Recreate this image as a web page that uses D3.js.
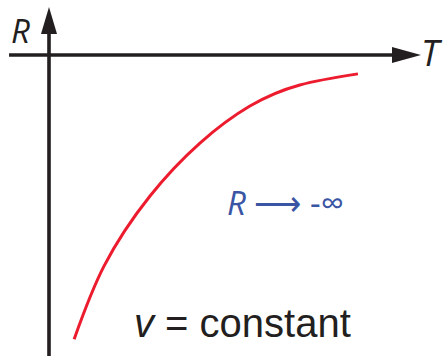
<!DOCTYPE html>
<html>
<head>
<meta charset="utf-8">
<script src="https://cdn.jsdelivr.net/npm/d3@7/dist/d3.min.js"></script>
<style>
  html, body { margin: 0; padding: 0; background: #fff; }
  svg { display: block; }
  text { font-family: "Open Sans", "Liberation Sans", sans-serif; }
</style>
</head>
<body>
<svg id="chart" width="444" height="356"></svg>
<script>
// R(T) curve at constant v
const temperature = [0.68, 1.49, 2.73, 4.08, 5.43, 6.78, 8.35];
const resistance  = [-7.68, -5.70, -3.81, -2.38, -1.38, -0.81, -0.51];

// Axis extents (data units)
const tRange = [-1.08, 10.0];
const rRange = [1.3, -8.2];

const labels = { x: "T", y: "R", limit: ["R", " \u27F6 -\u221E"], note: ["v", " = constant"] };

const svg = d3.select("#chart");
const W = 444, H = 356;

const x = d3.scaleLinear().domain([0, 10]).range([49, 419]);
const y = d3.scaleLinear().domain([0, -8]).range([55, 351]);

const ink = "#231f20";
const axisW = 3.6;

// horizontal T axis
svg.append("line")
  .attr("x1", x(tRange[0])).attr("x2", x(tRange[1]) - 25)
  .attr("y1", y(0)).attr("y2", y(0))
  .attr("stroke", ink).attr("stroke-width", axisW);
svg.append("path")
  .attr("d", `M${x(tRange[1]) + 2},${y(0)} L${x(tRange[1]) - 27},${y(0) - 8} L${x(tRange[1]) - 27},${y(0) + 8} Z`)
  .attr("fill", ink);

// vertical R axis
svg.append("line")
  .attr("x1", x(0)).attr("x2", x(0))
  .attr("y1", y(rRange[0]) + 24).attr("y2", H)
  .attr("stroke", ink).attr("stroke-width", axisW);
svg.append("path")
  .attr("d", `M${x(0)},${y(rRange[0])} L${x(0) - 8},${y(rRange[0]) + 27} L${x(0) + 8},${y(rRange[0]) + 27} Z`)
  .attr("fill", ink);

// axis labels
svg.append("text").attr("x", 11).attr("y", 43)
  .attr("font-size", 33).attr("font-style", "italic").attr("fill", ink)
  .text(labels.y);
svg.append("text").attr("x", 421).attr("y", 66)
  .attr("font-size", 36).attr("font-style", "italic").attr("fill", ink)
  .text(labels.x);

// curve
const pts = temperature.map((t, i) => [t, resistance[i]]);
svg.append("path")
  .datum(pts)
  .attr("fill", "none")
  .attr("stroke", "#ec1c2e")
  .attr("stroke-width", 3)
  .attr("d", d3.line().x(d => x(d[0])).y(d => y(d[1])).curve(d3.curveNatural));

// annotations
const lim = svg.append("text").attr("x", 227).attr("y", 215)
  .attr("font-size", 33).attr("fill", "#3a55a4");
lim.append("tspan").attr("font-style", "italic").text(labels.limit[0]);
lim.append("tspan").text(labels.limit[1]);

const note = svg.append("text").attr("x", 134).attr("y", 337)
  .attr("font-size", 40).attr("fill", ink)
  .style("font-family", "'Liberation Sans', Arial, sans-serif");
note.append("tspan").attr("font-style", "italic").text(labels.note[0]);
note.append("tspan").text(labels.note[1]);
</script>
</body>
</html>
